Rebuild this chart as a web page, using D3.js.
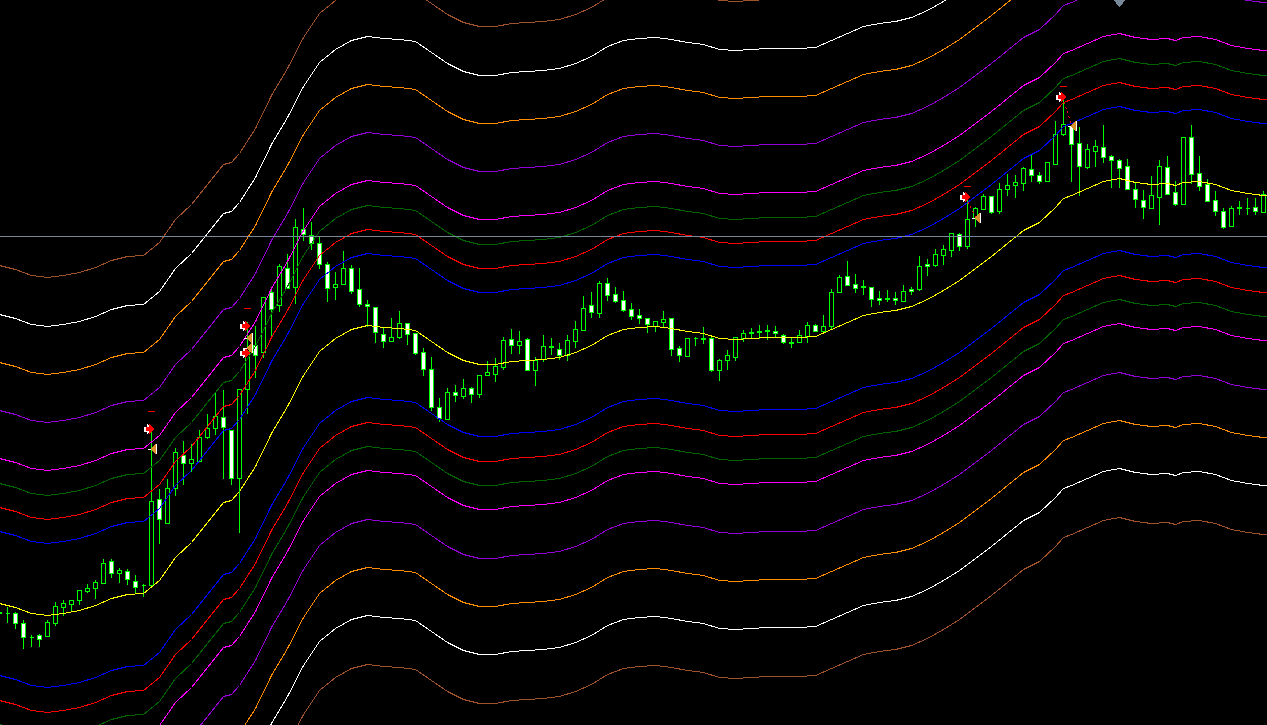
<!DOCTYPE html>
<html><head><meta charset="utf-8">
<style>html,body{margin:0;padding:0;background:#000;overflow:hidden}svg{display:block}</style>
<script src="https://cdn.jsdelivr.net/npm/d3@7/dist/d3.min.js"></script>
</head><body>
<script>
const barOpen=[112,112,112,102,88,90,89,102,118,121,
125,134,137,142,164,152,154,144,140,140,
226,202,237,270,262,264,288,297,308,295,
247,336,380,373,433,420,457,438,496,490,
482,461,438,441,457,436,421,418,391,384,
388,402,392,373,356,318,306,333,329,337,
331,350,351,358,386,380,386,355,366,378,
376,370,384,395,420,412,442,431,425,416,
410,407,399,403,407,377,369,387,386,387,
355,365,368,387,392,393,394,394,390,382,
383,389,400,394,399,433,449,441,438,438,
427,426,427,424,436,436,461,460,470,475,
491,479,507,516,529,514,536,540,542,556,
550,544,561,591,599,582,558,574,578,569,
565,559,536,525,517,528,558,533,521,588,
552,541,525,514,499,517,517,518,513];
const barHigh=[115,118,113,105,90,91,105,123,125,125,
135,141,145,166,166,157,156,150,141,298,
236,246,277,284,281,295,311,332,335,295,
336,403,399,428,437,461,471,506,517,503,
488,463,453,474,460,457,425,418,398,407,
414,402,392,377,368,327,337,340,346,338,
350,364,367,388,396,394,387,368,390,387,
382,390,404,429,433,444,447,438,434,422,
416,407,404,414,407,379,387,388,398,388,
366,375,388,395,397,400,400,399,391,388,
395,403,401,410,436,450,464,451,445,438,
434,435,433,440,438,469,466,476,480,492,
492,527,518,531,529,542,551,550,558,571,
553,563,604,626,599,598,581,585,600,570,
566,566,543,535,549,565,569,544,588,600,
569,546,534,517,519,524,527,527,534];
const barLow=[103,103,97,77,79,79,89,100,110,114,
121,133,127,142,148,143,141,133,129,140,
182,202,230,241,254,264,287,291,247,241,
193,312,348,368,387,414,437,422,485,476,
457,424,426,441,432,419,399,383,378,384,
387,381,371,350,315,304,306,324,327,323,
328,350,344,356,372,372,355,340,364,371,
366,365,378,395,408,408,425,423,414,406,
402,393,394,399,370,364,369,380,382,354,
345,356,365,384,387,387,386,388,382,378,
383,383,394,394,397,433,440,433,431,419,
421,424,421,424,431,435,450,459,461,469,
475,477,499,516,512,512,530,528,535,544,
542,544,561,590,544,530,557,559,563,538,
538,536,518,507,517,501,531,520,521,542,
535,524,510,497,499,511,511,511,513];
const barClose=[113,112,102,88,88,86,103,119,122,125,
135,137,143,162,152,155,146,138,140,224,
206,237,273,262,266,288,297,309,298,247,
336,377,370,428,416,459,437,498,491,482,
461,437,441,457,434,421,419,393,384,388,
402,391,372,356,318,307,333,330,337,331,
350,353,359,385,380,384,355,365,379,379,
370,385,396,417,413,442,430,424,415,409,
407,401,404,406,376,370,387,387,387,355,
365,370,388,392,393,394,395,392,383,383,
390,400,394,399,433,448,440,437,439,426,
425,427,425,434,434,459,459,471,476,492,
479,506,517,529,513,536,540,543,557,550,
544,563,591,601,581,559,576,579,568,565,
557,536,526,518,530,559,531,521,588,551,
539,524,514,498,517,518,517,514,531];
const firstBar=-1;

const bandBars=[-1,1,3,5,7,9,11,13,15,17,
19,21,23,25,27,28,29,31,33,35,
37,39,41,43,45,47,49,51,53,55,
57,59,61,63,65,67,69,71,73,75,
77,79,81,83,85,87,89,91,93,95,
97,99,101,103,105,107,109,111,113,115,
117,119,121,123,125,127,129,131,132,133,
135,137,139,141,143,145,146,147,149,151,
153,155,157,158];
const middle=[122,118,112,110,112,115,120,127,131,132,
145,168,183,203,223,225,234,259,292,319,
350,374,387,396,400,398,397,395,384,373,
365,361,361,364,365,366,368,373,380,390,
396,398,399,397,394,392,387,386,387,388,
388,388,389,396,403,410,413,415,419,426,
435,445,457,469,482,495,503,518,527,530,
537,544,547,543,541,542,540,543,544,541,
535,532,530,530];
const blueUpper=[194,190,184,182,184,187,192,199,203,204,
217,240,255,275,295,297,306,331,364,391,
422,446,459,468,472,470,469,467,456,445,
437,433,433,436,437,438,440,445,452,462,
468,470,471,469,466,464,459,458,459,460,
460,460,461,468,475,482,485,487,491,498,
507,517,529,541,554,567,575,590,599,602,
609,616,619,615,613,614,612,615,616,613,
607,604,602,602];
const redUpper=[218,214,208,206,208,211,216,223,227,228,
241,264,279,299,319,321,330,355,388,415,
446,470,483,492,496,494,493,491,480,469,
461,457,457,460,461,462,464,469,476,486,
492,494,495,493,490,488,483,482,483,484,
484,484,485,492,499,506,509,511,515,522,
531,541,553,565,578,591,599,614,623,626,
633,640,643,639,637,638,636,639,640,637,
631,628,626,626];
const greenUpper=[242,238,232,230,232,235,240,247,251,252,
265,288,303,323,343,345,354,379,412,439,
470,494,507,516,520,518,517,515,504,493,
485,481,481,484,485,486,488,493,500,510,
516,518,519,517,514,512,507,506,507,508,
508,508,509,516,523,530,533,535,539,546,
555,565,577,589,602,615,623,638,647,650,
657,664,667,663,661,662,660,663,664,661,
655,652,650,650];
const magentaUpper=[267,263,257,255,257,260,265,272,276,277,
290,313,328,348,368,370,379,404,437,464,
495,519,532,541,545,543,542,540,529,518,
510,506,506,509,510,511,513,518,525,535,
541,543,544,542,539,537,532,531,532,533,
533,533,534,541,548,555,558,560,564,571,
580,590,602,614,627,640,648,663,672,675,
682,689,692,688,686,687,685,688,689,686,
680,677,675,675];
const purpleUpper=[315,311,305,303,305,308,313,320,324,325,
338,361,376,396,416,418,427,452,485,512,
543,567,580,589,593,591,590,588,577,566,
558,554,554,557,558,559,561,566,573,583,
589,591,592,590,587,585,580,579,580,581,
581,581,582,589,596,603,606,608,612,619,
628,638,650,662,675,688,696,711,720,723,
730,737,740,736,734,735,733,736,737,734,
728,725,723,723];
const orangeUpper=[363,359,353,351,353,356,361,368,372,373,
386,409,424,444,464,466,475,500,533,560,
591,615,628,637,641,639,638,636,625,614,
606,602,602,605,606,607,609,614,621,631,
637,639,640,638,635,633,628,627,628,629,
629,629,630,637,644,651,654,656,660,667,
676,686,698,710,723,736,744,759,768,771,
778,785,788,784,782,783,781,784,785,782,
776,773,771,771];
const whiteUpper=[411,407,401,399,401,404,409,416,420,421,
434,457,472,492,512,514,523,548,581,608,
639,663,676,685,689,687,686,684,673,662,
654,650,650,653,654,655,657,662,669,679,
685,687,688,686,683,681,676,675,676,677,
677,677,678,685,692,699,702,704,708,715,
724,734,746,758,771,784,792,807,816,819,
826,833,836,832,830,831,829,832,833,830,
824,821,819,819];
const brownUpper=[460,456,450,448,450,453,458,465,469,470,
483,506,521,541,561,563,572,597,630,657,
688,712,725,734,738,736,735,733,722,711,
703,699,699,702,703,704,706,711,718,728,
734,736,737,735,732,730,725,724,725,726,
726,726,727,734,741,748,751,753,757,764,
773,783,795,807,820,833,841,856,865,868,
875,882,885,881,879,880,878,881,882,879,
873,870,868,868];
const blueLower=[50,46,40,38,40,43,48,55,59,60,
73,96,111,131,151,153,162,187,220,247,
278,302,315,324,328,326,325,323,312,301,
293,289,289,292,293,294,296,301,308,318,
324,326,327,325,322,320,315,314,315,316,
316,316,317,324,331,338,341,343,347,354,
363,373,385,397,410,423,431,446,455,458,
465,472,475,471,469,470,468,471,472,469,
463,460,458,458];
const redLower=[25,21,15,13,15,18,23,30,34,35,
48,71,86,106,126,128,137,162,195,222,
253,277,290,299,303,301,300,298,287,276,
268,264,264,267,268,269,271,276,283,293,
299,301,302,300,297,295,290,289,290,291,
291,291,292,299,306,313,316,318,322,329,
338,348,360,372,385,398,406,421,430,433,
440,447,450,446,444,445,443,446,447,444,
438,435,433,433];
const greenLower=[1,-3,-9,-11,-9,-6,-1,6,10,11,
24,47,62,82,102,104,113,138,171,198,
229,253,266,275,279,277,276,274,263,252,
244,240,240,243,244,245,247,252,259,269,
275,277,278,276,273,271,266,265,266,267,
267,267,268,275,282,289,292,294,298,305,
314,324,336,348,361,374,382,397,406,409,
416,423,426,422,420,421,419,422,423,420,
414,411,409,409];
const magentaLower=[-23,-27,-33,-35,-33,-30,-25,-18,-14,-13,
0,23,38,58,78,80,89,114,147,174,
205,229,242,251,255,253,252,250,239,228,
220,216,216,219,220,221,223,228,235,245,
251,253,254,252,249,247,242,241,242,243,
243,243,244,251,258,265,268,270,274,281,
290,300,312,324,337,350,358,373,382,385,
392,399,402,398,396,397,395,398,399,396,
390,387,385,385];
const purpleLower=[-72,-76,-82,-84,-82,-79,-74,-67,-63,-62,
-49,-26,-11,9,29,31,40,65,98,125,
156,180,193,202,206,204,203,201,190,179,
171,167,167,170,171,172,174,179,186,196,
202,204,205,203,200,198,193,192,193,194,
194,194,195,202,209,216,219,221,225,232,
241,251,263,275,288,301,309,324,333,336,
343,350,353,349,347,348,346,349,350,347,
341,338,336,336];
const orangeLower=[-120,-124,-130,-132,-130,-127,-122,-115,-111,-110,
-97,-74,-59,-39,-19,-17,-8,17,50,77,
108,132,145,154,158,156,155,153,142,131,
123,119,119,122,123,124,126,131,138,148,
154,156,157,155,152,150,145,144,145,146,
146,146,147,154,161,168,171,173,177,184,
193,203,215,227,240,253,261,276,285,288,
295,302,305,301,299,300,298,301,302,299,
293,290,288,288];
const whiteLower=[-168,-172,-178,-180,-178,-175,-170,-163,-159,-158,
-145,-122,-107,-87,-67,-65,-56,-31,2,29,
60,84,97,106,110,108,107,105,94,83,
75,71,71,74,75,76,78,83,90,100,
106,108,109,107,104,102,97,96,97,98,
98,98,99,106,113,120,123,125,129,136,
145,155,167,179,192,205,213,228,237,240,
247,254,257,253,251,252,250,253,254,251,
245,242,240,240];
const brownLower=[-217,-221,-227,-229,-227,-224,-219,-212,-208,-207,
-194,-171,-156,-136,-116,-114,-105,-80,-47,-20,
11,35,48,57,61,59,58,56,45,34,
26,22,22,25,26,27,29,34,41,51,
57,59,60,58,55,53,48,47,48,49,
49,49,50,57,64,71,74,76,80,87,
96,106,118,130,143,156,164,179,188,191,
198,205,208,204,202,203,201,204,205,202,
196,193,191,191];

const arrowBars=[18,30,30,120,132];
const arrowValues=[296,399,372,528,628];
const dashBars=[18,30,120,132];
const dashValues=[314,417,539,639];
const triBars=[18,30,30,121,133];
const triValues=[276,387,377,507,599];
const linkedSignals=[3,4];
const priceLine=489;
const gridMarkerBar=139;
const gridMarkerValue=718;

const W=1267,H=725;
const x=d3.scaleLinear().domain([-1,158]).range([-1,1271]);
const y=d3.scaleLinear().domain([0,725]).range([725,0]);
const svg=d3.select('body').append('svg').attr('width',W).attr('height',H)
  .style('background','#000').attr('shape-rendering','crispEdges');

const GREEN='#00ff00';
const bars=barOpen.map((o,i)=>({k:firstBar+i,o,h:barHigh[i],l:barLow[i],c:barClose[i]}));
const gBars=svg.append('g');
gBars.selectAll('line').data(bars).join('line')
  .attr('x1',d=>x(d.k)+.5).attr('x2',d=>x(d.k)+.5)
  .attr('y1',d=>y(d.h)).attr('y2',d=>y(d.l)+1)
  .attr('stroke',GREEN);
gBars.selectAll('path').data(bars).join('path')
  .attr('d',d=>{
    const t=y(Math.max(d.o,d.c))+.5,b=y(Math.min(d.o,d.c))+.5,l=x(d.k)-1.5,r=x(d.k)+2.5;
    return `M${l},${t}L${r},${t}L${r},${b}L${l},${b}Z`;
  })
  .attr('fill',d=>d.o>d.c?'#fff':'#000').attr('stroke',GREEN);

const line=d3.line().x((d,i)=>x(bandBars[i])+.5).y(d=>y(d)+.5).curve(d3.curveLinear);
const bands=[
  [brownUpper,'#a0522d'],[whiteUpper,'#ffffff'],[orangeUpper,'#ff8c00'],[purpleUpper,'#9400d3'],
  [magentaUpper,'#ff00ff'],[greenUpper,'#006400'],[redUpper,'#ff0000'],[blueUpper,'#0000ff'],
  [blueLower,'#0000ff'],[redLower,'#ff0000'],[greenLower,'#006400'],[magentaLower,'#ff00ff'],
  [purpleLower,'#9400d3'],[orangeLower,'#ff8c00'],[whiteLower,'#ffffff'],[brownLower,'#a0522d'],
  [middle,'#ffff00']];
svg.append('g').selectAll('path').data(bands).join('path')
  .attr('d',d=>line(d[0])).attr('fill','none').attr('stroke',d=>d[1]).attr('stroke-width',1);

svg.append('line').attr('x1',0).attr('x2',W).attr('y1',y(priceLine)+.5).attr('y2',y(priceLine)+.5)
  .attr('stroke','#778899');

const mx=x(gridMarkerBar)+.5,my=y(gridMarkerValue);
svg.append('path').attr('d',`M${mx-7},-1L${mx+7},-1L${mx},${my}Z`).attr('fill','#778899');

const gSig=svg.append('g');
gSig.selectAll('line.link').data(linkedSignals).join('line').attr('class','link')
  .attr('x1',i=>x(arrowBars[i])+1).attr('y1',i=>y(arrowValues[i])+5)
  .attr('x2',i=>x(triBars[i])+.5).attr('y2',i=>y(triValues[i])-1)
  .attr('stroke','#ff0000').attr('stroke-dasharray','2,3');
gSig.selectAll('line.dash').data(dashBars).join('line').attr('class','dash')
  .attr('x1',d=>x(d)-3).attr('x2',d=>x(d)+4)
  .attr('y1',(d,i)=>y(dashValues[i])+.5).attr('y2',(d,i)=>y(dashValues[i])+.5)
  .attr('stroke','#ff0000');
const arrowShape=(cx,cy)=>`M${cx-3},${cy-2}L${cx},${cy-2}L${cx},${cy-5}L${cx+5},${cy}L${cx},${cy+5}L${cx},${cy+2}L${cx-3},${cy+2}Z`;
arrowBars.forEach((b,i)=>{
  const cx=x(b)-2,cy=y(arrowValues[i]);
  gSig.append('path').attr('d',arrowShape(cx-2,cy)).attr('fill','#fff').attr('stroke','#fff');
  gSig.append('path').attr('d',arrowShape(cx,cy)).attr('fill','#ff0000');
});
triBars.forEach((b,i)=>{
  const cx=x(b),cy=y(triValues[i]);
  gSig.append('path').attr('d',`M${cx-1},${cy}L${cx+5},${cy-5}L${cx+5},${cy+5}Z`).attr('fill','#d9902c');
  gSig.append('line').attr('x1',cx+5.5).attr('x2',cx+5.5).attr('y1',cy-5).attr('y2',cy+5).attr('stroke','#fff');
  gSig.append('line').attr('x1',cx-3).attr('x2',cx).attr('y1',cy+.5).attr('y2',cy+.5).attr('stroke','#fff');
});
</script>
</body></html>
